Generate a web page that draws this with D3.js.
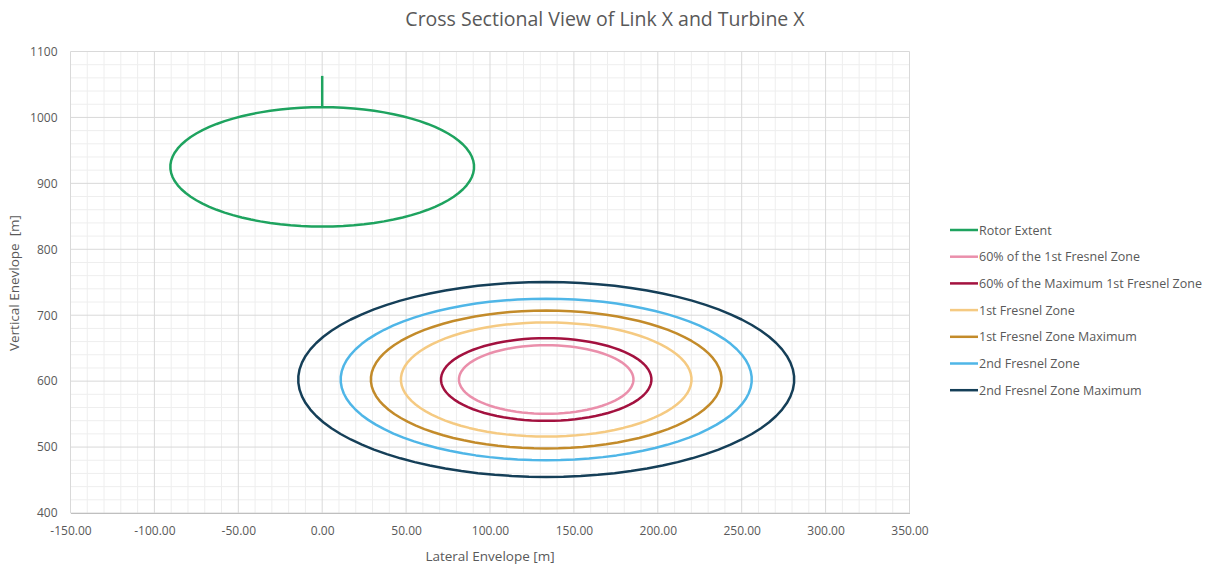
<!DOCTYPE html>
<html>
<head>
<meta charset="utf-8">
<script src="https://cdn.jsdelivr.net/npm/d3@7"></script>
<style>
  body { margin: 0; background: #fff; }
  text { font-family: "Open Sans", "Noto Sans", sans-serif; fill: #595959; }
</style>
</head>
<body>
<svg id="chart" width="1217" height="567"></svg>
<script>
// Series: rotor disc and Fresnel zone cross-sections (lateral / vertical, metres)
const seriesNames = [
  "Rotor Extent",
  "60% of the 1st Fresnel Zone",
  "60% of the Maximum 1st Fresnel Zone",
  "1st Fresnel Zone",
  "1st Fresnel Zone Maximum",
  "2nd Fresnel Zone",
  "2nd Fresnel Zone Maximum"
];
const centreLateral  = [0, 133.5, 133.5, 133.5, 133.5, 133.5, 133.5];
const centreVertical = [925, 602.5, 602.5, 602.5, 602.5, 602.5, 602.5];
const radii          = [90.5, 52.0, 62.7, 86.6, 104.5, 122.5, 147.8];
const rotorStemTop   = 1063;   // top of the blade marker above the rotor disc

const xTicks = [-150, -100, -50, 0, 50, 100, 150, 200, 250, 300, 350];
const yTicks = [400, 500, 600, 700, 800, 900, 1000, 1100];

const seriesColors = ["#1ea35f", "#ea8fab", "#a3113f", "#f5ca82", "#c38b2a", "#4fb6e7", "#153f58"];

const svg = d3.select("#chart");
const plot = { left: 70.5, right: 909.5, top: 51.5, bottom: 513 };

const x = d3.scaleLinear().domain([-150, 350]).range([plot.left, plot.right]);
const y = d3.scaleLinear().domain([400, 1100]).range([plot.bottom, plot.top]);

// Minor gridlines
const g = svg.append("g");
g.selectAll("line.minx").data(d3.range(-150, 351, 10).filter(v => v % 50 !== 0))
  .join("line").attr("x1", d => x(d)).attr("x2", d => x(d))
  .attr("y1", plot.top).attr("y2", plot.bottom)
  .attr("stroke", "#eeeeee").attr("stroke-width", 1);
g.selectAll("line.miny").data(d3.range(400, 1101, 20).filter(v => v % 100 !== 0))
  .join("line").attr("y1", d => y(d)).attr("y2", d => y(d))
  .attr("x1", plot.left).attr("x2", plot.right)
  .attr("stroke", "#eeeeee").attr("stroke-width", 1);

// Major gridlines
g.selectAll("line.majx").data(xTicks)
  .join("line").attr("x1", d => x(d)).attr("x2", d => x(d))
  .attr("y1", plot.top).attr("y2", plot.bottom)
  .attr("stroke", "#d9d9d9").attr("stroke-width", 1);
g.selectAll("line.majy").data(yTicks)
  .join("line").attr("y1", d => y(d)).attr("y2", d => y(d))
  .attr("x1", plot.left).attr("x2", plot.right)
  .attr("stroke", "#d9d9d9").attr("stroke-width", 1);

// Axes
const fmtX = v => v.toFixed(2);
const xAxis = d3.axisBottom(x).tickValues(xTicks).tickFormat(fmtX).tickSize(0).tickPadding(13);
const yAxis = d3.axisLeft(y).tickValues(yTicks).tickFormat(d3.format("d")).tickSize(0).tickPadding(13);

const gx = svg.append("g").attr("transform", `translate(0,${plot.bottom})`).call(xAxis);
gx.select(".domain").attr("stroke", "#bfbfbf");
gx.selectAll("text").attr("font-size", 12).style("font-family", "'Open Sans', sans-serif").attr("fill", "#595959");

const gy = svg.append("g").attr("transform", `translate(${plot.left},0)`).call(yAxis);
gy.select(".domain").remove();
gy.selectAll("text").attr("font-size", 12).style("font-family", "'Open Sans', sans-serif").attr("fill", "#595959");

// Series outlines
const line = d3.line().x(d => x(d[0])).y(d => y(d[1])).curve(d3.curveLinearClosed);
const angles = d3.range(0, 360, 4).map(a => a * Math.PI / 180);

const series = seriesNames.map((name, i) => ({
  name,
  color: seriesColors[i],
  pts: angles.map(a => [centreLateral[i] + radii[i] * Math.sin(a), centreVertical[i] + radii[i] * Math.cos(a)])
}));

const marks = svg.append("g");
marks.selectAll("path.zone").data(series).join("path")
  .attr("d", d => line(d.pts))
  .attr("fill", "none")
  .attr("stroke", d => d.color)
  .attr("stroke-width", 2.5)
  .attr("stroke-linejoin", "round");

// Blade marker above the rotor disc
marks.append("path")
  .attr("d", d3.line().x(d => x(d[0])).y(d => y(d[1]))([
    [centreLateral[0], centreVertical[0] + radii[0]],
    [centreLateral[0], rotorStemTop]
  ]))
  .attr("stroke", seriesColors[0]).attr("stroke-width", 2.5).attr("fill", "none");

// Title and axis titles
svg.append("text").attr("x", 605).attr("y", 26).attr("text-anchor", "middle")
  .attr("font-size", 19.5).text("Cross Sectional View of Link X and Turbine X");
svg.append("text").attr("x", 490).attr("y", 561).attr("text-anchor", "middle")
  .attr("font-size", 13.5).text("Lateral Envelope [m]");
svg.append("text").attr("transform", "translate(19,283) rotate(-90)").attr("text-anchor", "middle")
  .attr("font-size", 13.5).attr("xml:space", "preserve").text("Vertical Enevlope  [m]");

// Legend
const legend = svg.append("g").attr("transform", "translate(950,230)");
const rows = legend.selectAll("g").data(series).join("g")
  .attr("transform", (d, i) => `translate(0,${i * 26.7})`);
rows.append("line").attr("x1", 0).attr("x2", 28).attr("y1", 0).attr("y2", 0)
  .attr("stroke", d => d.color).attr("stroke-width", 2.5);
rows.append("text").attr("x", 29).attr("y", 4.5).attr("font-size", 12.5).text(d => d.name);
</script>
</body>
</html>
